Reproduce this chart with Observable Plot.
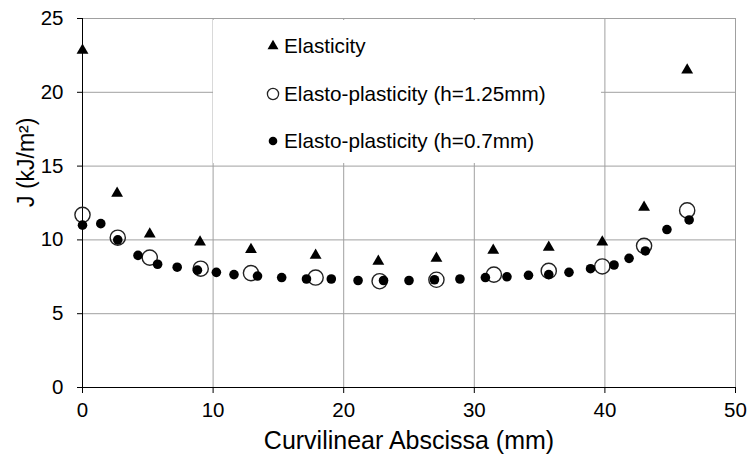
<!DOCTYPE html>
<html>
<head>
<meta charset="utf-8">
<script src="https://cdn.jsdelivr.net/npm/d3@7"></script>
<script src="https://cdn.jsdelivr.net/npm/@observablehq/plot@0.6"></script>
<style>
  html, body { margin: 0; padding: 0; background: #fff; }
  #chart { width: 747px; height: 463px; }
</style>
</head>
<body>
<div id="chart"></div>
<script>
// ---- Data ----
const seriesNames = ["Elasticity", "Elasto-plasticity (h=1.25mm)", "Elasto-plasticity (h=0.7mm)"];

const elasticityX = [0, 2.65, 5.15, 9.0, 12.9, 17.85, 22.65, 27.1, 31.45, 35.7, 39.8, 43.0, 46.3];
const elasticityY = [22.85, 13.15, 10.4, 9.85, 9.35, 8.95, 8.55, 8.75, 9.3, 9.5, 9.85, 12.2, 21.5];

const ep125X = [0, 2.7, 5.15, 9.05, 12.9, 17.85, 22.75, 27.1, 31.5, 35.7, 39.8, 43.0, 46.3];
const ep125Y = [11.7, 10.15, 8.8, 8.05, 7.75, 7.45, 7.2, 7.3, 7.65, 7.9, 8.2, 9.6, 12.0];

const ep07X = [0, 1.4, 2.7, 4.25, 5.75, 7.25, 8.8, 10.25, 11.6, 13.4, 15.25, 17.15, 19.05, 21.1, 23.05,
               25.0, 26.95, 28.9, 30.85, 32.5, 34.15, 35.7, 37.25, 38.9, 40.7, 41.85, 43.1, 44.75, 46.45];
const ep07Y = [11.0, 11.1, 10.0, 8.95, 8.35, 8.15, 7.95, 7.8, 7.65, 7.55, 7.45, 7.35, 7.35, 7.25, 7.25,
               7.25, 7.3, 7.35, 7.45, 7.5, 7.6, 7.65, 7.8, 8.05, 8.3, 8.75, 9.25, 10.7, 11.35];

const xTicks = [0, 10, 20, 30, 40, 50];
const yTicks = [0, 5, 10, 15, 20, 25];
const xTitle = "Curvilinear Abscissa (mm)";
const yTitle = "J (kJ/m²)";

// ---- Build tables ----
const toRows = (xs, ys) => xs.map((x, i) => ({x, y: ys[i]}));
const elastic = toRows(elasticityX, elasticityY);
const ep125 = toRows(ep125X, ep125Y);
const ep07 = toRows(ep07X, ep07Y);

const FONT = "'Liberation Sans', Arial, Helvetica, sans-serif";
const GRID = "#a0a0a0";

const chart = Plot.plot({
  width: 747,
  height: 463,
  marginLeft: 82,
  marginRight: 12,
  marginTop: 18,
  marginBottom: 76,
  style: {fontFamily: FONT, background: "#fff", color: "#000"},
  x: {domain: [0, 50]},
  y: {domain: [0, 25]},
  marks: [
    Plot.gridX(xTicks.filter(d => d > 0), {stroke: GRID, strokeOpacity: 1}),
    Plot.gridY(yTicks.filter(d => d > 0), {stroke: GRID, strokeOpacity: 1}),
    Plot.axisX({ticks: xTicks, tickSize: 6, tickPadding: 9, fontSize: 20.5, label: null, tickFormat: d => d}),
    Plot.axisY({ticks: yTicks, tickSize: 5, tickPadding: 14, fontSize: 20.5, label: null, tickFormat: d => d}),
    Plot.ruleX([0], {stroke: "#000"}),
    Plot.ruleY([0], {stroke: "#000"}),
    Plot.text([xTitle], {frameAnchor: "bottom", dy: 53, fontSize: 25, lineAnchor: "middle", fill: "#000"}),
    Plot.text([yTitle], {frameAnchor: "left", dx: -56, dy: 4, rotate: -90, fontSize: 23, lineAnchor: "middle", fill: "#000"}),
    Plot.dot(elastic, {x: "x", y: "y", symbol: "triangle", r: 4.4, fill: "#000", stroke: "none"}),
    Plot.dot(ep125, {x: "x", y: "y", r: 7.6, fill: "none", stroke: "#222", strokeWidth: 1.4}),
    Plot.dot(ep07, {x: "x", y: "y", r: 4.8, fill: "#000", stroke: "none"})
  ]
});

document.getElementById("chart").appendChild(chart);

// ---- Legend (white box over the grid, as in the reference) ----
const svg = d3.select(chart);
const lg = svg.append("g").attr("font-family", FONT).attr("font-size", 20.7).attr("text-anchor", "start");
lg.append("rect").attr("x", 213).attr("y", 20).attr("width", 388).attr("height", 143).attr("fill", "#fff");
const rows = [
  {name: seriesNames[0], cy: 46, kind: "tri"},
  {name: seriesNames[1], cy: 94, kind: "open"},
  {name: seriesNames[2], cy: 141, kind: "dot"}
];
rows.forEach(r => {
  const mx = 273;
  if (r.kind === "tri") {
    lg.append("path").attr("transform", `translate(${mx},${r.cy})`)
      .attr("d", d3.symbol(d3.symbolTriangle, 52)()).attr("fill", "#000");
  } else if (r.kind === "open") {
    lg.append("circle").attr("cx", mx).attr("cy", r.cy).attr("r", 5.6)
      .attr("fill", "none").attr("stroke", "#222").attr("stroke-width", 1.3);
  } else {
    lg.append("circle").attr("cx", mx).attr("cy", r.cy).attr("r", 4.3).attr("fill", "#000");
  }
  lg.append("text").attr("x", 284).attr("y", r.cy).attr("dy", "0.35em")
    .attr("text-anchor", "start").attr("fill", "#000").text(r.name);
});
</script>
</body>
</html>
